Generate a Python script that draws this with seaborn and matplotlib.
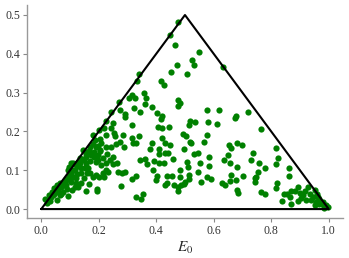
import matplotlib
matplotlib.use("Agg")
import matplotlib.pyplot as plt
import numpy as np
import pandas as pd
import seaborn as sns

# Points (E0, y)
e0 = [0.476, 0.448, 0.467, 0.549, 0.524, 0.531, 0.474, 0.631, 0.340, 0.451,
      0.506, 0.333, 0.416, 0.426, 0.358, 0.365, 0.316, 0.326, 0.305, 0.360,
      0.387, 0.476, 0.481, 0.476, 0.271, 0.244, 0.273, 0.321, 0.342, 0.291,
      0.291, 0.404, 0.421, 0.416, 0.577, 0.617, 0.676, 0.675, 0.718, 0.516,
      0.514, 0.536, 0.581, 0.611, 0.225, 0.251, 0.242, 0.217, 0.200, 0.317,
      0.407, 0.420, 0.445, 0.766, 0.180, 0.225, 0.252, 0.256, 0.284, 0.341,
      0.317, 0.421, 0.494, 0.505, 0.575, 0.518, 0.522, 0.565, 0.320, 0.331,
      0.384, 0.429, 0.449, 0.289, 0.261, 0.273, 0.180, 0.198, 0.224, 0.244,
      0.654, 0.680, 0.698, 0.660, 0.816, 0.497, 0.377, 0.409, 0.160, 0.182,
      0.203, 0.154, 0.172, 0.197, 0.228, 0.429, 0.442, 0.409, 0.531, 0.545,
      0.582, 0.651, 0.735, 0.824, 0.342, 0.360, 0.368, 0.391, 0.408, 0.427,
      0.459, 0.507, 0.585, 0.553, 0.637, 0.655, 0.728, 0.758, 0.818, 0.862,
      0.777, 0.682, 0.264, 0.248, 0.209, 0.191, 0.135, 0.110, 0.096, 0.390,
      0.481, 0.511, 0.546, 0.267, 0.292, 0.280, 0.224, 0.190, 0.160, 0.330,
      0.401, 0.436, 0.454, 0.483, 0.514, 0.575, 0.660, 0.703, 0.753, 0.747,
      0.863, 0.317, 0.398, 0.439, 0.500, 0.515, 0.556, 0.592, 0.628, 0.639,
      0.676, 0.655, 0.742, 0.744, 0.821, 0.815, 0.487, 0.496, 0.476, 0.461,
      0.432, 0.277, 0.355, 0.347, 0.329, 0.476, 0.194, 0.194, 0.154, 0.166,
      0.682, 0.686, 0.766, 0.778, 0.836, 0.843, 0.854, 0.868, 0.864, 0.868,
      0.883, 0.894, 0.899, 0.905, 0.893, 0.916, 0.928, 0.945, 0.940, 0.955,
      0.959, 0.968, 0.966, 0.980, 0.992, 0.998, 0.951, 0.920, 0.951, 0.012,
      0.027, 0.033, 0.038, 0.046, 0.056, 0.064, 0.056, 0.064, 0.075, 0.041,
      0.050, 0.070, 0.081, 0.087, 0.099, 0.093, 0.108, 0.116, 0.128, 0.137,
      0.104, 0.093, 0.119, 0.130, 0.139, 0.147, 0.122, 0.102, 0.116, 0.128,
      0.143, 0.157, 0.162, 0.151, 0.168, 0.180, 0.201, 0.215, 0.233, 0.220,
      0.157, 0.145, 0.171, 0.186, 0.203, 0.209, 0.183, 0.198, 0.215, 0.224,
      0.238, 0.249,
      # extra points in the dense left cluster and right corner
      0.020, 0.030, 0.045, 0.060, 0.072, 0.085, 0.095, 0.112, 0.125, 0.135,
      0.150, 0.165, 0.175, 0.190, 0.205, 0.070, 0.088, 0.105, 0.120, 0.140,
      0.155, 0.170, 0.185, 0.110, 0.125, 0.978, 0.962, 0.935, 0.910, 0.985]
yv = [0.482, 0.449, 0.423, 0.404, 0.383, 0.371, 0.372, 0.367, 0.349, 0.352,
      0.349, 0.329, 0.330, 0.319, 0.299, 0.286, 0.294, 0.286, 0.285, 0.271,
      0.262, 0.281, 0.273, 0.266, 0.276, 0.251, 0.256, 0.260, 0.249, 0.246,
      0.237, 0.247, 0.240, 0.231, 0.256, 0.256, 0.240, 0.234, 0.250, 0.228,
      0.217, 0.225, 0.225, 0.220, 0.228, 0.223, 0.210, 0.208, 0.204, 0.217,
      0.211, 0.208, 0.211, 0.206, 0.191, 0.191, 0.197, 0.187, 0.191, 0.189,
      0.184, 0.184, 0.193, 0.187, 0.191, 0.174, 0.171, 0.174, 0.171, 0.171,
      0.170, 0.170, 0.164, 0.161, 0.168, 0.174, 0.168, 0.163, 0.161, 0.161,
      0.166, 0.171, 0.166, 0.157, 0.157, 0.156, 0.154, 0.154, 0.148, 0.148,
      0.151, 0.135, 0.139, 0.139, 0.141, 0.145, 0.145, 0.142, 0.142, 0.144,
      0.133, 0.139, 0.145, 0.131, 0.127, 0.128, 0.116, 0.125, 0.120, 0.118,
      0.128, 0.122, 0.112, 0.118, 0.127, 0.120, 0.127, 0.118, 0.115, 0.105,
      0.107, 0.109, 0.120, 0.116, 0.114, 0.122, 0.131, 0.118, 0.109, 0.101,
      0.101, 0.109, 0.096, 0.096, 0.096, 0.092, 0.101, 0.088, 0.092, 0.085,
      0.086, 0.086, 0.085, 0.082, 0.088, 0.083, 0.088, 0.086, 0.095, 0.083,
      0.086, 0.077, 0.075, 0.068, 0.071, 0.077, 0.071, 0.077, 0.066, 0.062,
      0.075, 0.072, 0.071, 0.079, 0.066, 0.055, 0.062, 0.064, 0.058, 0.062,
      0.062, 0.059, 0.040, 0.025, 0.032, 0.047, 0.053, 0.046, 0.047, 0.065,
      0.049, 0.042, 0.044, 0.040, 0.022, 0.038, 0.040, 0.047, 0.032, 0.012,
      0.047, 0.058, 0.042, 0.028, 0.021, 0.046, 0.058, 0.032, 0.023, 0.019,
      0.040, 0.027, 0.013, 0.019, 0.010, 0.006, 0.010, 0.023, 0.049, 0.025,
      0.036, 0.031, 0.045, 0.055, 0.062, 0.068, 0.023, 0.036, 0.045, 0.036,
      0.045, 0.058, 0.071, 0.062, 0.075, 0.034, 0.049, 0.058, 0.058, 0.066,
      0.092, 0.101, 0.101, 0.111, 0.092, 0.079, 0.079, 0.118, 0.115, 0.122,
      0.127, 0.118, 0.105, 0.105, 0.092, 0.083, 0.083, 0.092, 0.096, 0.083,
      0.142, 0.152, 0.161, 0.178, 0.180, 0.170, 0.135, 0.127, 0.131, 0.118,
      0.127, 0.135,
      0.015, 0.022, 0.040, 0.050, 0.060, 0.078, 0.085, 0.100, 0.112, 0.120,
      0.130, 0.150, 0.145, 0.160, 0.150, 0.040, 0.052, 0.070, 0.068, 0.105,
      0.112, 0.125, 0.140, 0.082, 0.090, 0.012, 0.030, 0.040, 0.035, 0.004]

# Triangle outline
tri_x = [0.0, 0.5, 1.0, 0.0]
tri_y = [0.0, 0.5, 0.0, 0.0]

df = pd.DataFrame({"E0": e0, "y": yv})

sns.set_style("ticks")
plt.rcParams["font.family"] = ["Liberation Serif", "DejaVu Serif"]
plt.rcParams["mathtext.fontset"] = "stix"

fig = plt.figure(figsize=(3.49, 2.58), dpi=100)
ax = fig.add_axes([0.077, 0.155, 0.906, 0.826])

sns.scatterplot(data=df, x="E0", y="y", color="green", s=20,
                linewidth=0, ax=ax, zorder=2)
ax.plot(tri_x, tri_y, color="black", linewidth=1.5, zorder=3)

ax.set_xticks([0.0, 0.2, 0.4, 0.6, 0.8, 1.0])
ax.set_yticks([0.0, 0.1, 0.2, 0.3, 0.4, 0.5])
ax.set_xlim(-0.05, 1.05)
ax.set_ylim(-0.023, 0.526)
ax.set_xlabel("$E_0$", fontsize=11, labelpad=2)
ax.set_ylabel("")
ax.tick_params(labelsize=8.5, colors="#333333", length=3, width=0.8,
               color="#888888", pad=2)

sns.despine(ax=ax)
for side in ["left", "bottom"]:
    ax.spines[side].set_color("#999999")
    ax.spines[side].set_linewidth(1.0)

fig.savefig("out.png", dpi=100)
